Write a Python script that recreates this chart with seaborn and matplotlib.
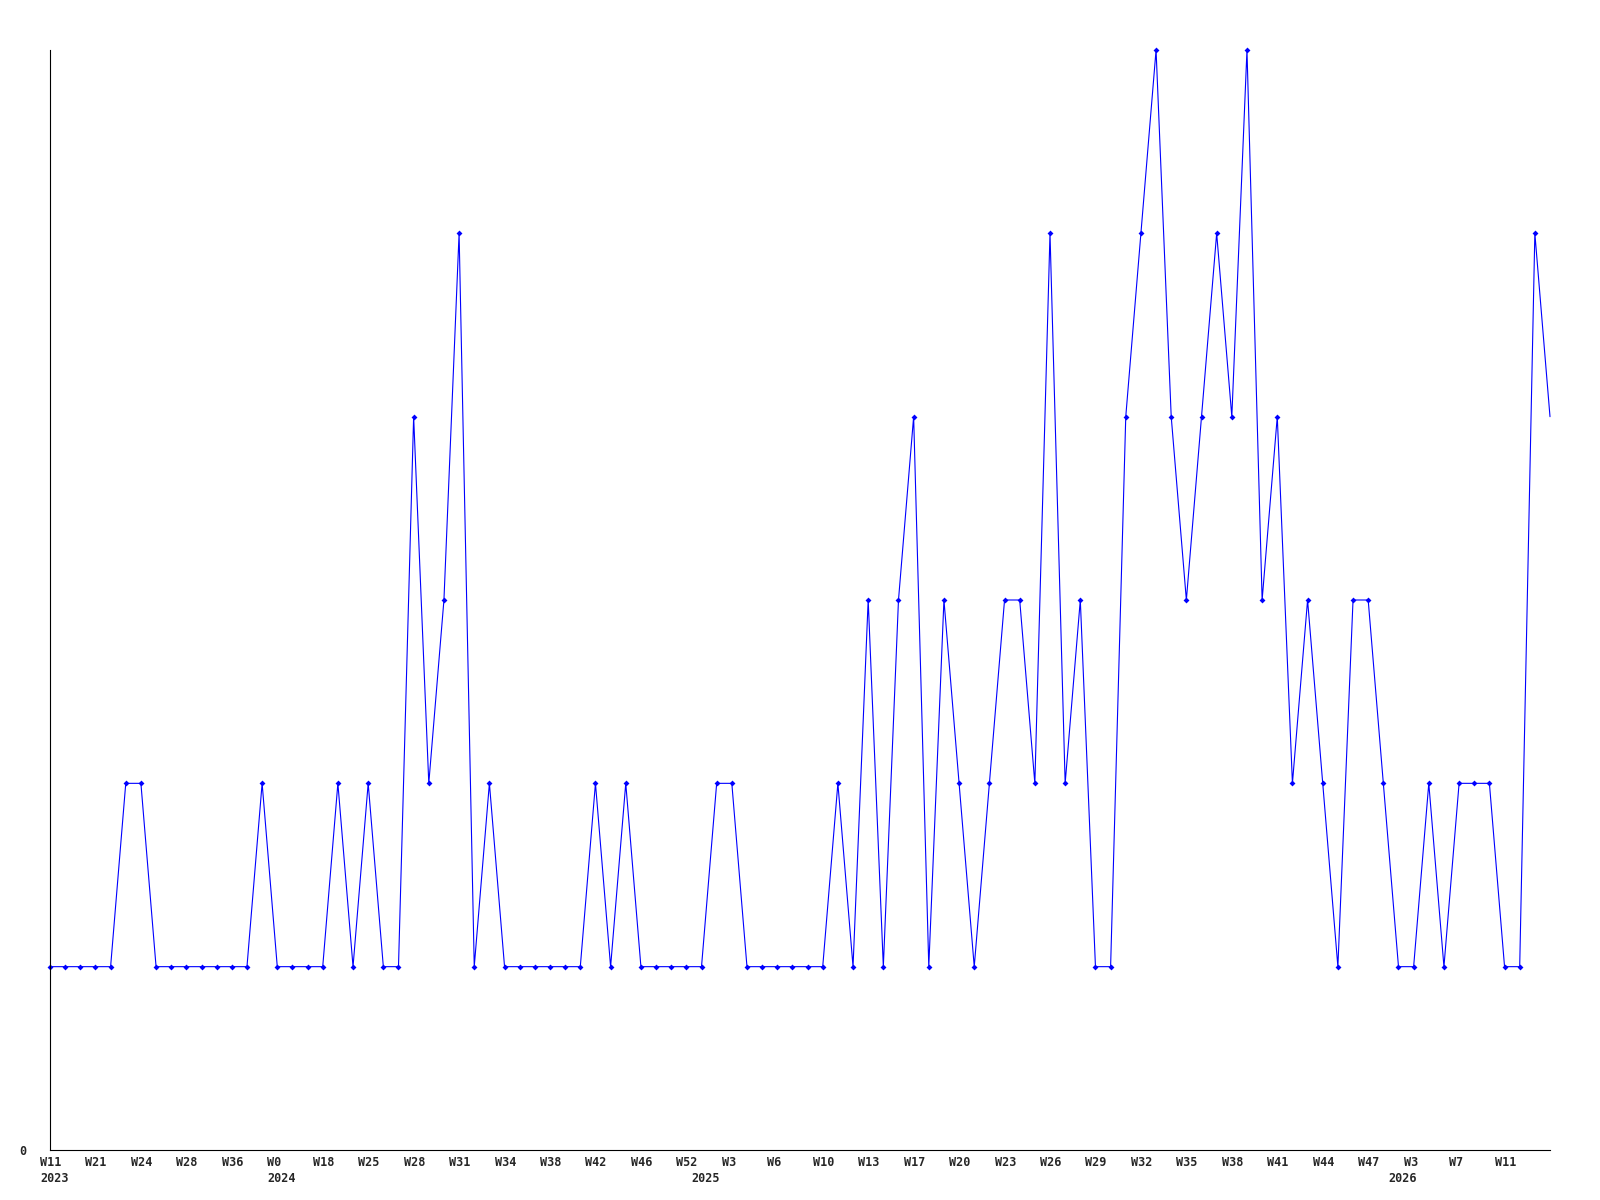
import matplotlib
matplotlib.use("Agg")
import matplotlib.pyplot as plt
import matplotlib.transforms as mtransforms
import seaborn as sns
import pandas as pd

# ---- data ----
values = [1, 1, 1, 1, 1, 2, 2, 1, 1, 1,
          1, 1, 1, 1, 2, 1, 1, 1, 1, 2,
          1, 2, 1, 1, 4, 2, 3, 5, 1, 2,
          1, 1, 1, 1, 1, 1, 2, 1, 2, 1,
          1, 1, 1, 1, 2, 2, 1, 1, 1, 1,
          1, 1, 2, 1, 3, 1, 3, 4, 1, 3,
          2, 1, 2, 3, 3, 2, 5, 2, 3, 1,
          1, 4, 5, 6, 4, 3, 4, 5, 4, 6,
          3, 4, 2, 3, 2, 1, 3, 3, 2, 1,
          1, 2, 1, 2, 2, 2, 1, 1, 5, 4]
week_labels = ["W11", "W21", "W24", "W28", "W36", "W0", "W18", "W25", "W28", "W31",
               "W34", "W38", "W42", "W46", "W52", "W3", "W6", "W10", "W13", "W17",
               "W20", "W23", "W26", "W29", "W32", "W35", "W38", "W41", "W44", "W47",
               "W3", "W7", "W11"]
year_labels = ["2023", "2024", "2025", "2026"]
year_label_index = [0, 15, 43, 89]

df = pd.DataFrame({"i": range(len(values)), "v": values})

sns.set_theme(style="white")
plt.rcParams["font.family"] = ["DejaVu Sans Mono", "DejaVu Sans"]

fig = plt.figure(figsize=(16, 12), dpi=100)
ax = fig.add_axes([50 / 1600, 1 - 1150 / 1200, 1500 / 1600, 1100 / 1200])

sns.lineplot(data=df, x="i", y="v", ax=ax, color="#0000ff", linewidth=0.8,
             marker="D", markersize=3, markeredgewidth=0, markerfacecolor="#0000ff",
             markevery=list(range(len(values) - 1)), clip_on=False)

ax.set_xlim(0, len(values) - 1)
ax.set_ylim(0, 6)
ax.set_xlabel("")
ax.set_ylabel("")

for s in ["top", "right"]:
    ax.spines[s].set_visible(False)
for s in ["left", "bottom"]:
    ax.spines[s].set_color("black")
    ax.spines[s].set_linewidth(0.8)

fp = dict(family=["DejaVu Sans Mono"], weight="bold", size=8.5)

ticks = list(range(0, len(values), 3))[:len(week_labels)]
ax.set_xticks(ticks)
ax.set_xticklabels(week_labels, **fp)
ax.tick_params(axis="x", length=0, pad=4.5)
shift = mtransforms.ScaledTranslation(-0.10, 0, fig.dpi_scale_trans)
for lab in ax.get_xticklabels():
    lab.set_horizontalalignment("left")
    lab.set_transform(lab.get_transform() + shift)

ax.set_yticks([0])
ax.set_yticklabels(["0"], **fp)
ax.tick_params(axis="y", length=0, pad=17)

trans = mtransforms.blended_transform_factory(ax.transData, ax.transAxes)
yshift = mtransforms.ScaledTranslation(-0.10, -0.215, fig.dpi_scale_trans)
for yl, yi in zip(year_labels, year_label_index):
    ax.text(yi, 0, yl, transform=trans + yshift, ha="left", va="top", **fp)

ax.grid(False)
fig.savefig("out.png", dpi=100, facecolor="white")
